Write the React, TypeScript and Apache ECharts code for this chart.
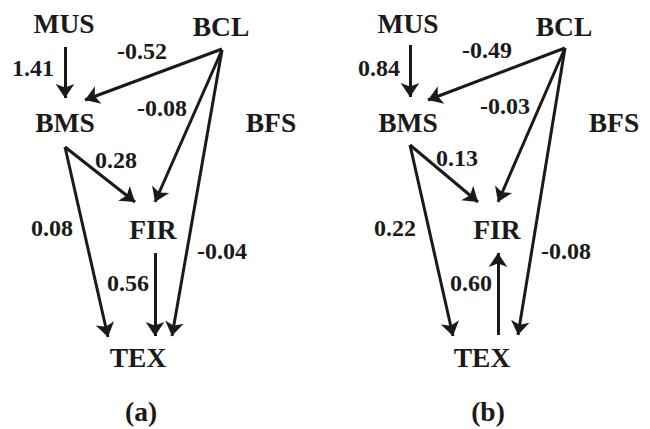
import React, { useEffect, useRef } from "react";
import * as echarts from "echarts";

// Node names and positions (diagram coordinates, panel a); panel b is shifted
const nodeNames = ["MUS", "BCL", "BMS", "BFS", "FIR", "TEX"];
const nodeXA = [64, 221, 65, 271, 153, 138];
const nodeXB = [408, 564, 408, 614, 497, 482];
const nodeY = [23, 26, 122, 122, 229, 357];

// Panel captions
const panelCaptions = ["(a)", "(b)"];
const captionX = [141, 488];
const captionY = [411, 411];

// Path coefficients, panel (a)
const edgeFromA = [[65, 47], [222, 49], [222, 50], [222, 50], [65, 147], [65, 147], [155, 253]];
const edgeToA = [[65, 98], [85, 100], [155, 202], [172, 336], [135, 202], [108, 337], [155, 336]];
const coefA = ["1.41", "-0.52", "-0.08", "-0.04", "0.28", "0.08", "0.56"];
const coefPosA = [[33, 68], [142, 51], [162, 108], [222, 251], [116, 160], [52, 228], [128, 283]];

// Path coefficients, panel (b)
const edgeFromB = [[410, 45], [565, 48], [565, 48], [565, 48], [410, 145], [410, 145], [498, 335]];
const edgeToB = [[410, 97], [428, 100], [498, 202], [518, 335], [478, 202], [453, 336], [498, 253]];
const coefB = ["0.84", "-0.49", "-0.03", "-0.08", "0.13", "0.22", "0.60"];
const coefPosB = [[379, 68], [487, 50], [505, 106], [566, 251], [457, 158], [395, 228], [471, 283]];

const INK = "#1a1a1a";
const FONT = "'Liberation Serif', 'Times New Roman', serif";

export default function App() {
  const ref = useRef<HTMLDivElement>(null);
  useEffect(() => {
    document.body.style.margin = "0";
    const chart = echarts.init(ref.current!, null, { renderer: "svg" });

    const nodeData: any[] = [];
    nodeNames.forEach((n, i) => {
      nodeData.push([nodeXA[i], nodeY[i], n]);
      nodeData.push([nodeXB[i], nodeY[i], n]);
    });
    panelCaptions.forEach((c, i) => nodeData.push([captionX[i], captionY[i], c]));

    const coefData: any[] = [];
    coefA.forEach((c, i) => coefData.push([coefPosA[i][0], coefPosA[i][1], c]));
    coefB.forEach((c, i) => coefData.push([coefPosB[i][0], coefPosB[i][1], c]));

    const edgeData: any[] = [];
    edgeFromA.forEach((f, i) => edgeData.push({ coords: [f, edgeToA[i]] }));
    edgeFromB.forEach((f, i) => edgeData.push({ coords: [f, edgeToB[i]] }));

    const textSeries = (data: any[], size: number) => ({
      type: "scatter",
      data,
      symbolSize: 1,
      itemStyle: { color: "rgba(0,0,0,0)", opacity: 1 },
      silent: true,
      label: {
        show: true,
        position: "inside",
        formatter: (p: any) => p.value[2],
        color: INK,
        opacity: 1,
        textBorderWidth: 0,
        fontFamily: FONT,
        fontWeight: "bold",
        fontSize: size,
      },
    });

    chart.setOption({
      animation: false,
      backgroundColor: "#ffffff",
      grid: { left: 0, right: 0, top: 0, bottom: 0 },
      xAxis: { type: "value", min: 0, max: 650, show: false },
      yAxis: { type: "value", min: 0, max: 429, inverse: true, show: false },
      series: [
        {
          type: "lines",
          coordinateSystem: "cartesian2d",
          data: edgeData,
          symbol: ["none", "arrow"],
          symbolSize: 14,
          lineStyle: { color: INK, width: 3, opacity: 1, curveness: 0 },
          silent: true,
        },
        textSeries(nodeData, 27.5),
        textSeries(coefData, 24),
      ],
    });
    return () => chart.dispose();
  }, []);
  return <div ref={ref} style={{ width: 650, height: 429 }} />;
}
